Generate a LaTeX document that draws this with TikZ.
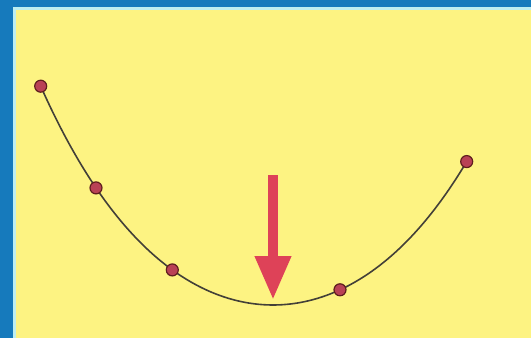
\documentclass[tikz,border=0pt]{standalone}
\usetikzlibrary{arrows.meta}
\definecolor{bgyellow}{RGB}{253,243,130}
\definecolor{frameblue}{RGB}{22,122,188}
\definecolor{framecyan}{RGB}{190,238,240}
\definecolor{ptfill}{RGB}{185,65,85}
\definecolor{ptdraw}{RGB}{95,30,30}
\definecolor{arrowred}{RGB}{222,66,88}
\tikzset{
  pt/.style={circle,fill=ptfill,draw=ptdraw,line width=1.2pt,minimum size=12pt,inner sep=0pt},
  curveline/.style={line width=1.6pt,draw=black!85!yellow},
  bigarrow/.style={draw=arrowred,line width=10pt,-{Triangle[width=34pt,length=44pt]}}
}
\begin{document}
\begin{tikzpicture}[x=1pt,y=-1pt,
  declare function={cat(\t)=305-150*(cosh((\t-273)/150)-1);}]
\useasboundingbox (0,0) rectangle (531,338);
\fill[frameblue] (0,0) rectangle (531,338);
\fill[framecyan] (12.5,7) rectangle (531,338);
\fill[bgyellow] (16,10) rectangle (531,338);
\draw[curveline] plot[domain=40.7:466.7,samples=80,smooth] (\x,{cat(\x)});
\node[pt] (p1) at (40.7,{cat(40.7)}) {};
\node[pt] (p2) at (96,{cat(96)}) {};
\node[pt] (p3) at (172.3,{cat(172.3)}) {};
\node[pt] (p4) at (340,{cat(340)}) {};
\node[pt] (p5) at (466.7,{cat(466.7)}) {};
\coordinate (atop) at (273,175);
\coordinate (atip) at (273,300);
\draw[bigarrow] (atop) -- (atip);
\end{tikzpicture}
\end{document}
